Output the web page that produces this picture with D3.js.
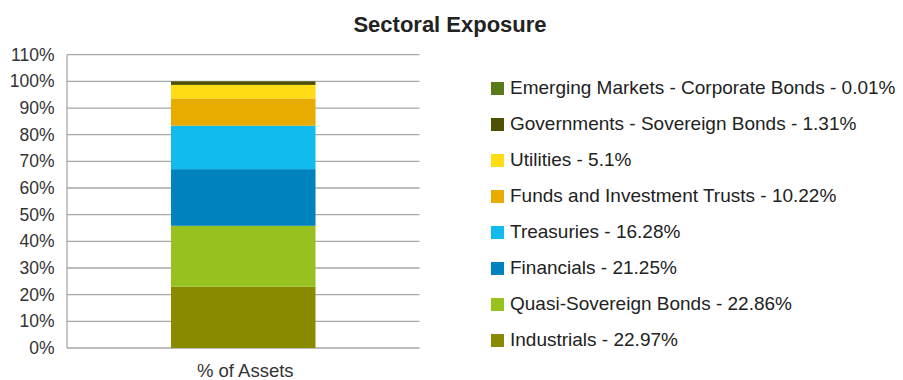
<!DOCTYPE html>
<html><head><meta charset="utf-8">
<script src="https://cdn.jsdelivr.net/npm/d3@7"></script>
<style>body{margin:0;background:#fff}svg{display:block;font-family:"Liberation Sans",Arial,sans-serif}</style>
</head><body><svg id="c" width="903" height="380"></svg>
<script>
const title = "Sectoral Exposure";
const category = "% of Assets";
const sectors = ["Industrials","Quasi-Sovereign Bonds","Financials","Treasuries","Funds and Investment Trusts","Utilities","Governments - Sovereign Bonds","Emerging Markets - Corporate Bonds"];
const values = [22.97,22.86,21.25,16.28,10.22,5.1,1.31,0.01];
const colors = ["#8a8a00","#96c11f","#0082be","#11bbee","#e8ab00","#ffdc14","#4d5000","#5a7a1a"];
const yTicks = [0,10,20,30,40,50,60,70,80,90,100,110];

const svg = d3.select("#c");
const pL = 67, pR = 419.5, pT = 54.7, pB = 348;
const y = d3.scaleLinear().domain([0,110]).range([pB, pT]);
const x = d3.scaleBand().domain([category]).range([pL, pR]).paddingInner(0.59).paddingOuter(0.295);

svg.append("text").attr("x",450).attr("y",31.5).attr("text-anchor","middle")
  .attr("font-size",22).attr("font-weight","bold").attr("fill","#222").text(title);

// gridlines
svg.append("g").selectAll("line").data(yTicks).join("line")
  .attr("x1",pL).attr("x2",pR).attr("y1",d=>y(d)).attr("y2",d=>y(d))
  .attr("stroke","#a6a6a6").attr("stroke-width",1.3);
svg.append("line").attr("x1",pL).attr("x2",pL).attr("y1",pT).attr("y2",pB)
  .attr("stroke","#a6a6a6").attr("stroke-width",1.3);

// y axis labels
const yAxis = d3.axisLeft(y).tickValues(yTicks).tickFormat(d=>d+"%").tickSize(0).tickPadding(12.5);
const ga = svg.append("g").attr("transform",`translate(${pL},0)`).call(yAxis);
ga.select(".domain").remove();
ga.selectAll("text").attr("font-size",17.5).attr("fill","#333").attr("font-family","Liberation Sans, Arial, sans-serif");

// stacked bar
const stackData = [Object.fromEntries(sectors.map((s,i)=>[s,values[i]]))];
const series = d3.stack().keys(sectors)(stackData);
svg.append("g").selectAll("rect").data(series).join("rect")
  .attr("x",x(category)).attr("width",x.bandwidth())
  .attr("y",d=>y(d[0][1])).attr("height",d=>y(d[0][0])-y(d[0][1]))
  .attr("fill",(d,i)=>colors[i]);

// x label
const xAxis = d3.axisBottom(x).tickSize(0).tickPadding(15.5);
const gx = svg.append("g").attr("transform",`translate(2,${pB})`).call(xAxis);
gx.select(".domain").remove();
gx.selectAll("text").attr("font-size",18.5).attr("fill","#333").attr("font-family","Liberation Sans, Arial, sans-serif");

// legend (reverse order, top = last)
const legendOrder = d3.range(sectors.length).reverse();
const lg = svg.append("g").selectAll("g").data(legendOrder).join("g")
  .attr("transform",(d,i)=>`translate(491,${93.5+i*36})`);
lg.append("rect").attr("x",0).attr("y",-11.5).attr("width",13).attr("height",13).attr("fill",d=>colors[d]);
lg.append("text").attr("x",19).attr("y",0).attr("font-size",19).attr("fill","#222")
  .text(d=>`${sectors[d]} - ${values[d]}%`);
</script></body></html>
